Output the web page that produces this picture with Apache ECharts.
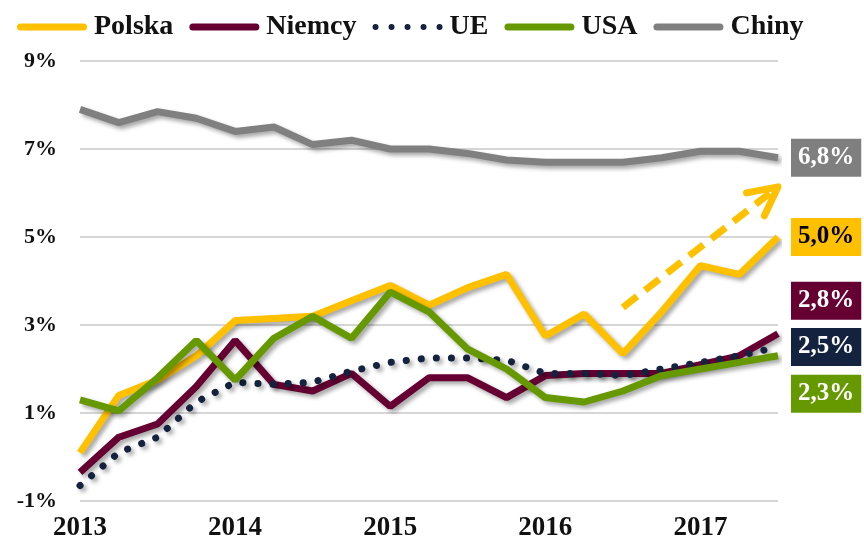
<!DOCTYPE html>
<html>
<head>
<meta charset="utf-8">
<script src="https://cdn.jsdelivr.net/npm/echarts@6/dist/echarts.min.js"></script>
<style>
  html, body { margin: 0; padding: 0; background: #fff; }
  #chart { width: 864px; height: 542px; }
</style>
</head>
<body>
<div id="chart"></div>
<script>
// kwartały 2013 Q1 - 2017 Q3
const quarters = ['2013Q1','2013Q2','2013Q3','2013Q4','2014Q1','2014Q2','2014Q3','2014Q4',
  '2015Q1','2015Q2','2015Q3','2015Q4','2016Q1','2016Q2','2016Q3','2016Q4','2017Q1','2017Q2','2017Q3'];

const polska = [0.1, 1.4, 1.75, 2.3, 3.1, 3.15, 3.2, 3.55, 3.9, 3.45, 3.85, 4.15, 2.75, 3.25, 2.35, 3.3, 4.35, 4.15, 5.0];
const niemcy = [-0.35, 0.45, 0.75, 1.6, 2.65, 1.65, 1.5, 1.9, 1.15, 1.8, 1.8, 1.35, 1.85, 1.9, 1.9, 1.9, 2.1, 2.3, 2.8];
const ue = [-0.65, 0.1, 0.45, 1.25, 1.7, 1.65, 1.7, 1.95, 2.15, 2.25, 2.25, 2.2, 1.9, 1.9, 1.85, 2.0, 2.15, 2.3, 2.5];
const usa = [1.3, 1.05, 1.8, 2.65, 1.75, 2.7, 3.2, 2.7, 3.75, 3.3, 2.45, 2.0, 1.35, 1.25, 1.5, 1.85, 2.0, 2.15, 2.3];
const chiny = [7.9, 7.6, 7.85, 7.7, 7.4, 7.5, 7.1, 7.2, 7.0, 7.0, 6.9, 6.75, 6.7, 6.7, 6.7, 6.8, 6.95, 6.95, 6.8];

// strzałka trendu (indeks kwartału, wartość)
const arrowFrom = [14, 3.4];
const arrowTo = [18, 6.14];

const FONT = '"Liberation Serif", "DejaVu Serif", serif';
const fmtPct = v => v.toFixed(1).replace('.', ',') + '%';

const shadow = { shadowColor: 'rgba(0,0,0,0.35)', shadowBlur: 4, shadowOffsetX: 3, shadowOffsetY: 3 };

// ikony legendy
const barIcon = 'path://M3.5,0 L66.5,0 A3.5,3.5 0 0,1 66.5,7 L3.5,7 A3.5,3.5 0 0,1 3.5,0 Z';
let dotIcon = 'path://';
for (let i = 0; i < 5; i++) {
  const x = i * 16;
  dotIcon += `M${x},3 A3,3 0 1,0 ${x + 6},3 A3,3 0 1,0 ${x},3 Z `;
}

function makeSeries(name, data, color, lineType, labelBg, labelColor, labelOffsetY) {
  return {
    name: name, type: 'line', data: data, symbol: 'none',
    color: color,
    lineStyle: Object.assign({ color: color, width: 7, type: lineType, cap: lineType === 'solid' ? 'butt' : 'round' }, shadow),
    endLabel: {
      show: true, distance: 13, offset: [0, labelOffsetY],
      formatter: p => fmtPct(p.value),
      backgroundColor: labelBg, color: labelColor,
      fontFamily: FONT, fontWeight: 'bold', fontSize: 25, lineHeight: 28,
      padding: [5, 7, 5, 7]
    }
  };
}

const chart = echarts.init(document.getElementById('chart'));

const series = [
  makeSeries('Chiny', chiny, '#808080', 'solid', '#7f7f7f', '#fff', 0),
  makeSeries('Polska', polska, '#ffc000', 'solid', '#ffc000', '#000', 0),
  makeSeries('Niemcy', niemcy, '#660033', 'solid', '#660033', '#fff', -33),
  makeSeries('UE', ue, '#13233f', [0.1, 15], '#13233f', '#fff', 0),
  makeSeries('USA', usa, '#669900', 'solid', '#669900', '#fff', 38)
];

// przerywana linia strzałki (markLine na serii Polska)
series[1].markLine = {
  silent: true,
  symbol: ['none', 'none'],
  label: { show: false },
  lineStyle: { color: '#ffc000', width: 7, type: [18, 10], shadowBlur: 0, shadowOffsetX: 0, shadowOffsetY: 0 },
  data: [[{ coord: arrowFrom }, { coord: arrowTo }]]
};

chart.setOption({
  animation: false,
  legend: {
    data: [
      { name: 'Polska', icon: barIcon },
      { name: 'Niemcy', icon: barIcon },
      { name: 'UE', icon: dotIcon },
      { name: 'USA', icon: barIcon },
      { name: 'Chiny', icon: barIcon }
    ],
    left: 12, top: 8, itemGap: 16, itemWidth: 70, itemHeight: 7,
    textStyle: { fontFamily: FONT, fontWeight: 'bold', fontSize: 28, color: '#111', padding: [0, 0, 0, 2] }
  },
  grid: { left: 80, right: 86, top: 61, bottom: 40, containLabel: false },
  xAxis: {
    type: 'category', data: quarters, boundaryGap: false,
    axisLine: { show: false }, axisTick: { show: false },
    axisLabel: {
      interval: 3, margin: 14, formatter: v => v.slice(0, 4),
      fontFamily: FONT, fontWeight: 'bold', fontSize: 27, color: '#111'
    }
  },
  yAxis: {
    type: 'value', min: -1, max: 9, interval: 2,
    axisLine: { show: false }, axisTick: { show: false },
    axisLabel: { formatter: '{value}%', margin: 23, fontFamily: FONT, fontWeight: 'bold', fontSize: 22, color: '#111' },
    splitLine: { lineStyle: { color: '#c8c8c8', width: 1.5 } }
  },
  series: series
});

// grot strzałki liczony ze skali wykresu
const p0 = chart.convertToPixel({ gridIndex: 0 }, arrowFrom);
const p1 = chart.convertToPixel({ gridIndex: 0 }, arrowTo);
const len = Math.hypot(p1[0] - p0[0], p1[1] - p0[1]);
const ux = (p0[0] - p1[0]) / len, uy = (p0[1] - p1[1]) / len;
const arm = 32, th = 27 * Math.PI / 180;
const cs = Math.cos(th), sn = Math.sin(th);
const a1 = [p1[0] + arm * (ux * cs - uy * sn), p1[1] + arm * (ux * sn + uy * cs)];
const a2 = [p1[0] + arm * (ux * cs + uy * sn), p1[1] + arm * (-ux * sn + uy * cs)];
chart.setOption({
  graphic: [{
    type: 'polyline', silent: true, z: 10,
    shape: { points: [a1, p1, a2] },
    style: { stroke: '#ffc000', lineWidth: 7, fill: null, lineCap: 'round', lineJoin: 'round' }
  }]
});
</script>
</body>
</html>
